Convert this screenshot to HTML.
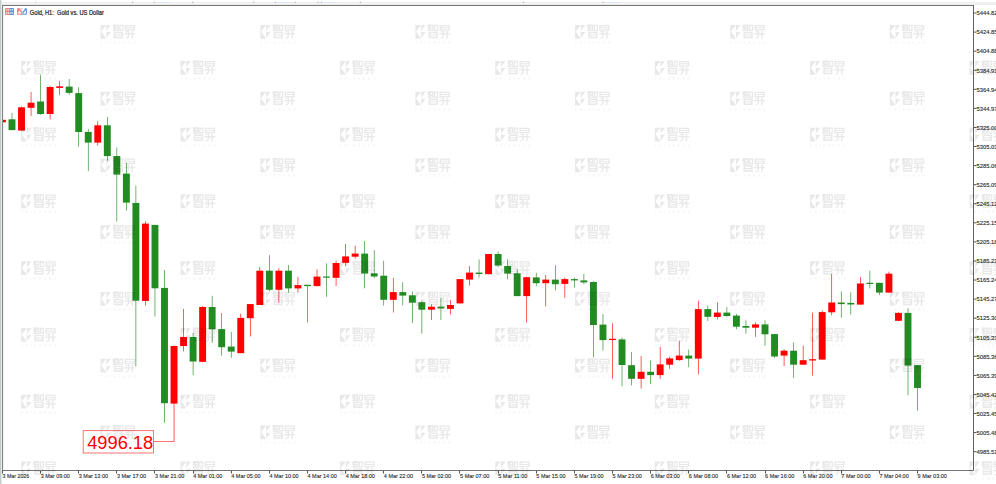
<!DOCTYPE html>
<html><head><meta charset="utf-8"><style>
html,body{margin:0;padding:0;background:#fff;width:996px;height:484px;overflow:hidden}
svg{display:block}
.ax{font-family:"Liberation Sans",sans-serif;font-size:6px;fill:#2a2a2a;stroke:#2a2a2a;stroke-width:0.12}
.hd{font-family:"Liberation Sans",sans-serif;font-size:6.4px;fill:#1a1a1a;stroke:#1a1a1a;stroke-width:0.2}
</style></head><body>
<svg width="996" height="484" viewBox="0 0 996 484">
<defs><g id="wm" fill="#000" opacity="0.085">
<path d="M0.3 0H5.4V0.7L0.9 6.4L5.4 12.7V13.7H0.3Z"/>
<path d="M6.0 0H10.4L6.0 6.1Z"/>
<path d="M6.0 7.1H10.4L6.0 13.2Z"/>
<path fill-rule="evenodd" d="M12.6 -0.6h5.9v6.7h-5.9zM15.3 1.3v1.3h1.8v-1.3zM12.6 3.6h1.4l-1.4 1.5zM15.3 4.0v1.0h1.8v-1.0z"/><path fill-rule="evenodd" d="M19.0 -0.3h4.1v6.2h-4.1zM20.2 1.1v3.6h1.7v-3.6z"/>
<path fill-rule="evenodd" d="M13.5 6.8h9.2v6.4h-9.2zM15.0 8.2v1.3h6.2v-1.3zM15.0 10.6v1.1h6.2v-1.1z"/>
<path fill-rule="evenodd" d="M24.5 -0.1h10.2v5.6h-10.2zM25.8 1.2v1.1h7.6v-1.1zM25.8 3.3v1.0h7.6v-1.0z"/>
<path d="M24.0 8.3h10.9v1.3h-10.9z"/>
<path d="M25.2 6.6l3.6-1.1l0.3 1.0l-3.6 1.1z"/>
<path d="M27.5 5.9h1.4v5.4q0 1.6-3.2 2.5l-0.5-0.9q2.3-0.7 2.3-1.8z"/>
<path d="M31.3 5.9h1.4v7.7h-1.4z"/>
<text x="0" y="18.8" font-size="3.2" textLength="35.4" lengthAdjust="spacing" font-family="Liberation Sans" fill-opacity="0.8">ZHISHENG</text>
</g><clipPath id="ca"><rect x="3" y="6" width="970" height="464"/></clipPath></defs>
<rect x="0" y="0" width="996" height="484" fill="#fff"/>
<rect x="0" y="0" width="1" height="484" fill="#c0cdcd"/>
<rect x="1" y="0" width="1" height="484" fill="#e6e6e6"/>
<rect x="2" y="2" width="994" height="1" fill="#eeeeee"/>
<rect x="2" y="3" width="994" height="1" fill="#f4f4f4"/>
<rect x="2" y="4" width="994" height="1" fill="#ebebeb"/>
<rect x="154" y="2" width="17" height="1" fill="#dde7f5"/><rect x="275" y="2" width="18" height="1" fill="#dde7f5"/><rect x="321" y="2" width="17" height="1" fill="#dde7f5"/><rect x="603" y="2" width="17" height="1" fill="#dde7f5"/><rect x="35.0" y="1.6" width="1.2" height="1.6" fill="#cccccc"/><rect x="132.0" y="1.6" width="1.2" height="1.6" fill="#bdbdbd"/><rect x="153.7" y="1.6" width="1.2" height="1.6" fill="#bdbdbd"/><rect x="192.2" y="1.6" width="1.2" height="1.6" fill="#bdbdbd"/><rect x="253.0" y="1.6" width="1.2" height="1.6" fill="#bdbdbd"/><rect x="274.7" y="1.6" width="1.2" height="1.6" fill="#bdbdbd"/><rect x="294.7" y="1.6" width="1.2" height="1.6" fill="#bdbdbd"/><rect x="317.5" y="1.6" width="1.2" height="1.6" fill="#bdbdbd"/><rect x="320.8" y="1.6" width="1.2" height="1.6" fill="#bdbdbd"/><rect x="359.8" y="1.6" width="1.2" height="1.6" fill="#bdbdbd"/><rect x="522.9" y="1.6" width="1.2" height="1.6" fill="#bdbdbd"/><rect x="602.4" y="1.6" width="1.2" height="1.6" fill="#bdbdbd"/>
<rect x="3" y="6" width="1" height="464" fill="#f0f0f0"/>
<g clip-path="url(#ca)"><rect x="2.13" y="119.8" width="0.64" height="2.5" fill="#ff0000"/><rect x="11.66" y="112.9" width="0.64" height="17.2" fill="#228b22"/><rect x="21.19" y="106.5" width="0.64" height="24.1" fill="#ff0000"/><rect x="30.73" y="92.0" width="0.64" height="24.1" fill="#ff0000"/><rect x="40.26" y="74.7" width="0.64" height="40.2" fill="#228b22"/><rect x="49.79" y="86.1" width="0.64" height="33.4" fill="#ff0000"/><rect x="59.32" y="80.9" width="0.64" height="14.0" fill="#ff0000"/><rect x="68.85" y="78.9" width="0.64" height="15.9" fill="#228b22"/><rect x="78.39" y="87.2" width="0.64" height="59.6" fill="#228b22"/><rect x="87.92" y="129.0" width="0.64" height="42.0" fill="#228b22"/><rect x="97.45" y="121.2" width="0.64" height="24.3" fill="#ff0000"/><rect x="106.98" y="117.0" width="0.64" height="43.8" fill="#228b22"/><rect x="116.51" y="147.4" width="0.64" height="74.1" fill="#228b22"/><rect x="126.05" y="163.0" width="0.64" height="47.4" fill="#228b22"/><rect x="135.58" y="185.6" width="0.64" height="180.8" fill="#228b22"/><rect x="145.11" y="221.2" width="0.64" height="84.4" fill="#ff0000"/><rect x="154.64" y="224.9" width="0.64" height="91.5" fill="#228b22"/><rect x="164.17" y="270.0" width="0.64" height="152.6" fill="#228b22"/><rect x="173.71" y="345.3" width="0.64" height="96.1" fill="#ff0000"/><rect x="183.24" y="308.9" width="0.64" height="42.5" fill="#ff0000"/><rect x="192.77" y="332.9" width="0.64" height="42.3" fill="#228b22"/><rect x="202.30" y="306.1" width="0.64" height="56.2" fill="#ff0000"/><rect x="211.83" y="295.8" width="0.64" height="47.0" fill="#228b22"/><rect x="221.37" y="313.0" width="0.64" height="42.7" fill="#228b22"/><rect x="230.90" y="332.0" width="0.64" height="25.8" fill="#228b22"/><rect x="240.43" y="313.7" width="0.64" height="39.5" fill="#ff0000"/><rect x="249.96" y="303.9" width="0.64" height="32.6" fill="#ff0000"/><rect x="259.49" y="267.0" width="0.64" height="38.0" fill="#ff0000"/><rect x="269.03" y="255.2" width="0.64" height="36.2" fill="#228b22"/><rect x="278.56" y="268.3" width="0.64" height="34.3" fill="#ff0000"/><rect x="288.09" y="265.0" width="0.64" height="27.7" fill="#228b22"/><rect x="297.62" y="277.0" width="0.64" height="15.7" fill="#ff0000"/><rect x="307.15" y="284.8" width="0.64" height="37.7" fill="#228b22"/><rect x="316.69" y="269.3" width="0.64" height="17.0" fill="#ff0000"/><rect x="326.22" y="263.4" width="0.64" height="33.4" fill="#228b22"/><rect x="335.75" y="260.5" width="0.64" height="25.5" fill="#ff0000"/><rect x="345.28" y="244.0" width="0.64" height="21.8" fill="#ff0000"/><rect x="354.81" y="245.6" width="0.64" height="13.2" fill="#ff0000"/><rect x="364.35" y="241.2" width="0.64" height="47.1" fill="#228b22"/><rect x="373.88" y="250.1" width="0.64" height="27.9" fill="#228b22"/><rect x="383.41" y="260.8" width="0.64" height="44.7" fill="#228b22"/><rect x="392.94" y="277.9" width="0.64" height="34.6" fill="#ff0000"/><rect x="402.47" y="282.2" width="0.64" height="23.3" fill="#228b22"/><rect x="412.01" y="291.5" width="0.64" height="31.4" fill="#228b22"/><rect x="421.54" y="301.1" width="0.64" height="32.5" fill="#228b22"/><rect x="431.07" y="304.4" width="0.64" height="15.5" fill="#ff0000"/><rect x="440.60" y="297.8" width="0.64" height="22.1" fill="#228b22"/><rect x="450.13" y="300.0" width="0.64" height="14.3" fill="#ff0000"/><rect x="459.67" y="279.1" width="0.64" height="24.3" fill="#ff0000"/><rect x="469.20" y="266.0" width="0.64" height="19.5" fill="#ff0000"/><rect x="478.73" y="259.4" width="0.64" height="18.2" fill="#228b22"/><rect x="488.26" y="254.0" width="0.64" height="20.2" fill="#ff0000"/><rect x="497.79" y="251.5" width="0.64" height="15.7" fill="#228b22"/><rect x="507.33" y="259.4" width="0.64" height="19.9" fill="#228b22"/><rect x="516.86" y="269.2" width="0.64" height="26.9" fill="#228b22"/><rect x="526.39" y="276.6" width="0.64" height="46.0" fill="#ff0000"/><rect x="535.92" y="272.8" width="0.64" height="13.4" fill="#228b22"/><rect x="545.45" y="275.0" width="0.64" height="31.4" fill="#ff0000"/><rect x="554.99" y="265.2" width="0.64" height="25.1" fill="#228b22"/><rect x="564.52" y="277.6" width="0.64" height="20.2" fill="#ff0000"/><rect x="574.05" y="277.6" width="0.64" height="10.0" fill="#228b22"/><rect x="583.58" y="273.8" width="0.64" height="10.4" fill="#228b22"/><rect x="593.11" y="281.2" width="0.64" height="76.2" fill="#228b22"/><rect x="602.65" y="313.9" width="0.64" height="36.8" fill="#228b22"/><rect x="612.18" y="323.3" width="0.64" height="55.5" fill="#ff0000"/><rect x="621.71" y="337.4" width="0.64" height="48.8" fill="#228b22"/><rect x="631.24" y="352.0" width="0.64" height="33.4" fill="#228b22"/><rect x="640.77" y="356.1" width="0.64" height="32.6" fill="#ff0000"/><rect x="650.31" y="360.6" width="0.64" height="23.6" fill="#228b22"/><rect x="659.84" y="347.0" width="0.64" height="31.8" fill="#ff0000"/><rect x="669.37" y="356.8" width="0.64" height="12.0" fill="#ff0000"/><rect x="678.90" y="340.7" width="0.64" height="19.9" fill="#ff0000"/><rect x="688.43" y="349.6" width="0.64" height="17.6" fill="#228b22"/><rect x="697.97" y="300.7" width="0.64" height="73.6" fill="#ff0000"/><rect x="707.50" y="305.5" width="0.64" height="15.5" fill="#228b22"/><rect x="717.03" y="302.2" width="0.64" height="17.1" fill="#ff0000"/><rect x="726.56" y="307.0" width="0.64" height="9.8" fill="#228b22"/><rect x="736.09" y="314.0" width="0.64" height="15.2" fill="#228b22"/><rect x="745.63" y="320.2" width="0.64" height="13.6" fill="#228b22"/><rect x="755.16" y="322.2" width="0.64" height="14.6" fill="#ff0000"/><rect x="764.69" y="320.2" width="0.64" height="25.7" fill="#228b22"/><rect x="774.22" y="334.1" width="0.64" height="23.9" fill="#228b22"/><rect x="783.75" y="349.2" width="0.64" height="16.8" fill="#ff0000"/><rect x="793.29" y="342.4" width="0.64" height="35.3" fill="#228b22"/><rect x="802.82" y="345.4" width="0.64" height="19.3" fill="#ff0000"/><rect x="812.35" y="312.6" width="0.64" height="62.9" fill="#ff0000"/><rect x="821.88" y="310.4" width="0.64" height="49.2" fill="#ff0000"/><rect x="831.41" y="274.0" width="0.64" height="41.3" fill="#ff0000"/><rect x="840.95" y="291.5" width="0.64" height="26.1" fill="#228b22"/><rect x="850.48" y="292.3" width="0.64" height="22.3" fill="#228b22"/><rect x="860.01" y="277.0" width="0.64" height="27.6" fill="#ff0000"/><rect x="869.54" y="270.7" width="0.64" height="17.7" fill="#228b22"/><rect x="879.07" y="282.8" width="0.64" height="12.2" fill="#228b22"/><rect x="888.61" y="271.6" width="0.64" height="21.0" fill="#ff0000"/><rect x="898.14" y="312.1" width="0.64" height="8.7" fill="#ff0000"/><rect x="907.67" y="308.4" width="0.64" height="87.0" fill="#228b22"/><rect x="917.20" y="365.0" width="0.64" height="45.7" fill="#228b22"/><rect x="-1.00" y="119.8" width="6.9" height="2.5" fill="#ff0000"/><rect x="8.53" y="119.3" width="6.9" height="10.8" fill="#228b22"/><rect x="18.06" y="107.3" width="6.9" height="23.3" fill="#ff0000"/><rect x="27.60" y="102.7" width="6.9" height="5.1" fill="#ff0000"/><rect x="37.13" y="101.5" width="6.9" height="12.5" fill="#228b22"/><rect x="46.66" y="87.0" width="6.9" height="27.0" fill="#ff0000"/><rect x="56.19" y="86.3" width="6.9" height="1.6" fill="#ff0000"/><rect x="65.72" y="86.6" width="6.9" height="6.3" fill="#228b22"/><rect x="75.26" y="93.1" width="6.9" height="38.9" fill="#228b22"/><rect x="84.79" y="131.9" width="6.9" height="10.7" fill="#228b22"/><rect x="94.32" y="125.3" width="6.9" height="17.3" fill="#ff0000"/><rect x="103.85" y="125.3" width="6.9" height="30.8" fill="#228b22"/><rect x="113.38" y="156.0" width="6.9" height="18.6" fill="#228b22"/><rect x="122.92" y="173.6" width="6.9" height="29.0" fill="#228b22"/><rect x="132.45" y="203.0" width="6.9" height="97.7" fill="#228b22"/><rect x="141.98" y="223.6" width="6.9" height="77.4" fill="#ff0000"/><rect x="151.51" y="224.9" width="6.9" height="63.4" fill="#228b22"/><rect x="161.04" y="287.9" width="6.9" height="115.3" fill="#228b22"/><rect x="170.58" y="346.0" width="6.9" height="57.6" fill="#ff0000"/><rect x="180.11" y="337.0" width="6.9" height="9.0" fill="#ff0000"/><rect x="189.64" y="337.0" width="6.9" height="24.5" fill="#228b22"/><rect x="199.17" y="307.0" width="6.9" height="54.8" fill="#ff0000"/><rect x="208.70" y="307.0" width="6.9" height="22.3" fill="#228b22"/><rect x="218.24" y="329.1" width="6.9" height="18.1" fill="#228b22"/><rect x="227.77" y="346.6" width="6.9" height="5.0" fill="#228b22"/><rect x="237.30" y="317.9" width="6.9" height="35.3" fill="#ff0000"/><rect x="246.83" y="304.1" width="6.9" height="14.1" fill="#ff0000"/><rect x="256.36" y="270.7" width="6.9" height="34.3" fill="#ff0000"/><rect x="265.90" y="270.7" width="6.9" height="19.1" fill="#228b22"/><rect x="275.43" y="270.7" width="6.9" height="19.1" fill="#ff0000"/><rect x="284.96" y="270.7" width="6.9" height="17.7" fill="#228b22"/><rect x="294.49" y="285.1" width="6.9" height="3.3" fill="#ff0000"/><rect x="304.02" y="284.8" width="6.9" height="1.3" fill="#228b22"/><rect x="313.56" y="276.6" width="6.9" height="9.5" fill="#ff0000"/><rect x="323.09" y="276.5" width="6.9" height="1.2" fill="#228b22"/><rect x="332.62" y="263.0" width="6.9" height="14.8" fill="#ff0000"/><rect x="342.15" y="256.4" width="6.9" height="6.4" fill="#ff0000"/><rect x="351.68" y="253.6" width="6.9" height="3.1" fill="#ff0000"/><rect x="361.22" y="253.6" width="6.9" height="19.9" fill="#228b22"/><rect x="370.75" y="273.3" width="6.9" height="3.2" fill="#228b22"/><rect x="380.28" y="275.7" width="6.9" height="24.1" fill="#228b22"/><rect x="389.81" y="292.1" width="6.9" height="7.7" fill="#ff0000"/><rect x="399.34" y="292.1" width="6.9" height="3.5" fill="#228b22"/><rect x="408.88" y="295.3" width="6.9" height="7.4" fill="#228b22"/><rect x="418.41" y="302.2" width="6.9" height="7.5" fill="#228b22"/><rect x="427.94" y="306.7" width="6.9" height="3.0" fill="#ff0000"/><rect x="437.47" y="306.6" width="6.9" height="1.9" fill="#228b22"/><rect x="447.00" y="305.0" width="6.9" height="3.9" fill="#ff0000"/><rect x="456.54" y="279.1" width="6.9" height="24.3" fill="#ff0000"/><rect x="466.07" y="272.6" width="6.9" height="7.0" fill="#ff0000"/><rect x="475.60" y="272.6" width="6.9" height="1.4" fill="#228b22"/><rect x="485.13" y="254.0" width="6.9" height="20.2" fill="#ff0000"/><rect x="494.66" y="254.0" width="6.9" height="11.5" fill="#228b22"/><rect x="504.20" y="266.0" width="6.9" height="7.6" fill="#228b22"/><rect x="513.73" y="273.3" width="6.9" height="22.8" fill="#228b22"/><rect x="523.26" y="277.2" width="6.9" height="18.9" fill="#ff0000"/><rect x="532.79" y="277.4" width="6.9" height="5.8" fill="#228b22"/><rect x="542.32" y="279.6" width="6.9" height="3.6" fill="#ff0000"/><rect x="551.86" y="279.6" width="6.9" height="4.6" fill="#228b22"/><rect x="561.39" y="279.1" width="6.9" height="4.8" fill="#ff0000"/><rect x="570.92" y="279.1" width="6.9" height="1.3" fill="#228b22"/><rect x="580.45" y="280.4" width="6.9" height="2.0" fill="#228b22"/><rect x="589.98" y="282.0" width="6.9" height="43.0" fill="#228b22"/><rect x="599.52" y="324.6" width="6.9" height="15.5" fill="#228b22"/><rect x="609.05" y="338.8" width="6.9" height="1.2" fill="#ff0000"/><rect x="618.58" y="339.4" width="6.9" height="25.6" fill="#228b22"/><rect x="628.11" y="365.2" width="6.9" height="13.6" fill="#228b22"/><rect x="637.64" y="371.8" width="6.9" height="7.0" fill="#ff0000"/><rect x="647.18" y="371.8" width="6.9" height="3.3" fill="#228b22"/><rect x="656.71" y="364.4" width="6.9" height="10.7" fill="#ff0000"/><rect x="666.24" y="358.4" width="6.9" height="6.3" fill="#ff0000"/><rect x="675.77" y="355.6" width="6.9" height="4.5" fill="#ff0000"/><rect x="685.30" y="355.6" width="6.9" height="3.0" fill="#228b22"/><rect x="694.84" y="309.1" width="6.9" height="49.5" fill="#ff0000"/><rect x="704.37" y="309.1" width="6.9" height="7.7" fill="#228b22"/><rect x="713.90" y="312.6" width="6.9" height="4.4" fill="#ff0000"/><rect x="723.43" y="312.6" width="6.9" height="3.4" fill="#228b22"/><rect x="732.96" y="315.6" width="6.9" height="11.1" fill="#228b22"/><rect x="742.50" y="326.0" width="6.9" height="1.7" fill="#228b22"/><rect x="752.03" y="324.4" width="6.9" height="3.3" fill="#ff0000"/><rect x="761.56" y="324.4" width="6.9" height="9.9" fill="#228b22"/><rect x="771.09" y="334.1" width="6.9" height="22.4" fill="#228b22"/><rect x="780.62" y="350.7" width="6.9" height="4.9" fill="#ff0000"/><rect x="790.16" y="350.7" width="6.9" height="14.0" fill="#228b22"/><rect x="799.69" y="360.2" width="6.9" height="4.5" fill="#ff0000"/><rect x="809.22" y="359.2" width="6.9" height="1.3" fill="#ff0000"/><rect x="818.75" y="312.1" width="6.9" height="47.5" fill="#ff0000"/><rect x="828.28" y="302.5" width="6.9" height="9.8" fill="#ff0000"/><rect x="837.82" y="302.5" width="6.9" height="1.6" fill="#228b22"/><rect x="847.35" y="302.9" width="6.9" height="1.6" fill="#228b22"/><rect x="856.88" y="283.5" width="6.9" height="21.1" fill="#ff0000"/><rect x="866.41" y="282.8" width="6.9" height="1.2" fill="#228b22"/><rect x="875.94" y="282.8" width="6.9" height="9.8" fill="#228b22"/><rect x="885.48" y="273.7" width="6.9" height="18.9" fill="#ff0000"/><rect x="895.01" y="312.9" width="6.9" height="7.9" fill="#ff0000"/><rect x="904.54" y="312.9" width="6.9" height="52.7" fill="#228b22"/><rect x="914.07" y="365.1" width="6.9" height="22.9" fill="#228b22"/></g>

<rect x="83.2" y="430.6" width="70.3" height="22.4" fill="none" stroke="#ff0000" stroke-opacity="0.55" stroke-width="1"/>
<rect x="153.5" y="441" width="21" height="1" fill="#ff0000" fill-opacity="0.55"/>
<text x="87.2" y="448.7" font-family="Liberation Sans" font-size="18" fill="#ff0000" textLength="66" lengthAdjust="spacingAndGlyphs">4996.18</text>

<rect x="2" y="5" width="972" height="1" fill="#777"/>
<rect x="2" y="5" width="1" height="466" fill="#888"/>
<rect x="973" y="5" width="1" height="466" fill="#606060"/>
<rect x="2" y="470" width="972" height="1" fill="#747474"/>

<g>
<rect x="5" y="8" width="4.7" height="7" rx="0.9" fill="#ee7d7d"/>
<rect x="9.4" y="8" width="4.6" height="7" rx="0.9" fill="#4f92d6"/>
<rect x="9.4" y="8" width="0.6" height="7" fill="#4f92d6"/>
<g fill="#fbd2d2"><rect x="5.9" y="8.9" width="1.4" height="1.7"/><rect x="7.9" y="8.9" width="1.5" height="1.7"/><rect x="5.9" y="11.8" width="1.4" height="2.3"/><rect x="7.9" y="11.8" width="1.5" height="2.3"/></g>
<g fill="#c9e0f7"><rect x="10.2" y="8.9" width="1.4" height="1.7"/><rect x="12.2" y="8.9" width="1.0" height="1.7"/><rect x="10.2" y="11.8" width="1.4" height="2.3"/><rect x="12.2" y="11.8" width="1.0" height="2.3"/></g>
<rect x="20.2" y="8.1" width="2.8" height="1.3" rx="0.6" fill="#cdcdcd"/>
<path d="M17.1 9.1Q17.1 8.1 18.2 8.1L19.1 8.1L22.3 11.9L22.3 14.8L17.9 14.8Q17.1 14.8 17.1 14L17.1 9.1Z" fill="#ee7d7d"/>
<path d="M18.2 13.9L18.2 11.6L19.3 10.6L21.3 12.6L21.3 13.9Z" fill="#fde6dc"/>
<path d="M22.5 14.8L22.5 11.6L24.5 9.8L24.5 8.9Q24.5 8.2 25.3 8.2L26.2 8.2Q26.9 8.2 26.9 9L26.9 14Q26.9 14.8 26.1 14.8Z" fill="#4f92d6"/>
<path d="M23.4 13.9L23.4 12.1L25.2 10.5L26.0 10.5L26.0 13.9Z" fill="#cde6fb"/>
</g>
<text x="29.8" y="14.7" class="hd" xml:space="preserve" textLength="74" lengthAdjust="spacingAndGlyphs">Gold, H1:  Gold vs. US Dollar</text>

<rect x="974" y="12.55" width="2.5" height="1" fill="#555"/><text x="976.6" y="15.35" class="ax" textLength="21" lengthAdjust="spacingAndGlyphs">5444.82</text><rect x="974" y="31.62" width="2.5" height="1" fill="#555"/><text x="976.6" y="34.42" class="ax" textLength="21" lengthAdjust="spacingAndGlyphs">5424.85</text><rect x="974" y="50.69" width="2.5" height="1" fill="#555"/><text x="976.6" y="53.49" class="ax" textLength="21" lengthAdjust="spacingAndGlyphs">5404.88</text><rect x="974" y="69.76" width="2.5" height="1" fill="#555"/><text x="976.6" y="72.56" class="ax" textLength="21" lengthAdjust="spacingAndGlyphs">5384.91</text><rect x="974" y="88.83" width="2.5" height="1" fill="#555"/><text x="976.6" y="91.63" class="ax" textLength="21" lengthAdjust="spacingAndGlyphs">5364.94</text><rect x="974" y="107.90" width="2.5" height="1" fill="#555"/><text x="976.6" y="110.70" class="ax" textLength="21" lengthAdjust="spacingAndGlyphs">5344.97</text><rect x="974" y="126.97" width="2.5" height="1" fill="#555"/><text x="976.6" y="129.77" class="ax" textLength="21" lengthAdjust="spacingAndGlyphs">5325.00</text><rect x="974" y="146.04" width="2.5" height="1" fill="#555"/><text x="976.6" y="148.84" class="ax" textLength="21" lengthAdjust="spacingAndGlyphs">5305.03</text><rect x="974" y="165.11" width="2.5" height="1" fill="#555"/><text x="976.6" y="167.91" class="ax" textLength="21" lengthAdjust="spacingAndGlyphs">5285.06</text><rect x="974" y="184.18" width="2.5" height="1" fill="#555"/><text x="976.6" y="186.98" class="ax" textLength="21" lengthAdjust="spacingAndGlyphs">5265.09</text><rect x="974" y="203.25" width="2.5" height="1" fill="#555"/><text x="976.6" y="206.05" class="ax" textLength="21" lengthAdjust="spacingAndGlyphs">5245.12</text><rect x="974" y="222.32" width="2.5" height="1" fill="#555"/><text x="976.6" y="225.12" class="ax" textLength="21" lengthAdjust="spacingAndGlyphs">5225.15</text><rect x="974" y="241.39" width="2.5" height="1" fill="#555"/><text x="976.6" y="244.19" class="ax" textLength="21" lengthAdjust="spacingAndGlyphs">5205.18</text><rect x="974" y="260.46" width="2.5" height="1" fill="#555"/><text x="976.6" y="263.26" class="ax" textLength="21" lengthAdjust="spacingAndGlyphs">5185.21</text><rect x="974" y="279.53" width="2.5" height="1" fill="#555"/><text x="976.6" y="282.33" class="ax" textLength="21" lengthAdjust="spacingAndGlyphs">5165.24</text><rect x="974" y="298.60" width="2.5" height="1" fill="#555"/><text x="976.6" y="301.40" class="ax" textLength="21" lengthAdjust="spacingAndGlyphs">5145.27</text><rect x="974" y="317.67" width="2.5" height="1" fill="#555"/><text x="976.6" y="320.47" class="ax" textLength="21" lengthAdjust="spacingAndGlyphs">5125.30</text><rect x="974" y="336.74" width="2.5" height="1" fill="#555"/><text x="976.6" y="339.54" class="ax" textLength="21" lengthAdjust="spacingAndGlyphs">5105.33</text><rect x="974" y="355.81" width="2.5" height="1" fill="#555"/><text x="976.6" y="358.61" class="ax" textLength="21" lengthAdjust="spacingAndGlyphs">5085.36</text><rect x="974" y="374.88" width="2.5" height="1" fill="#555"/><text x="976.6" y="377.68" class="ax" textLength="21" lengthAdjust="spacingAndGlyphs">5065.39</text><rect x="974" y="393.95" width="2.5" height="1" fill="#555"/><text x="976.6" y="396.75" class="ax" textLength="21" lengthAdjust="spacingAndGlyphs">5045.42</text><rect x="974" y="413.02" width="2.5" height="1" fill="#555"/><text x="976.6" y="415.82" class="ax" textLength="21" lengthAdjust="spacingAndGlyphs">5025.45</text><rect x="974" y="432.09" width="2.5" height="1" fill="#555"/><text x="976.6" y="434.89" class="ax" textLength="21" lengthAdjust="spacingAndGlyphs">5005.48</text><rect x="974" y="451.16" width="2.5" height="1" fill="#555"/><text x="976.6" y="453.96" class="ax" textLength="21" lengthAdjust="spacingAndGlyphs">4985.51</text>
<rect x="2" y="471" width="1" height="2.5" fill="#555"/><text x="2.55" y="478.3" class="ax" textLength="26.7" lengthAdjust="spacingAndGlyphs">3 Mar 2026</text><rect x="40" y="471" width="1" height="2.5" fill="#555"/><text x="40.68" y="478.3" class="ax" textLength="29.2" lengthAdjust="spacingAndGlyphs">3 Mar 09:00</text><rect x="78" y="471" width="1" height="2.5" fill="#555"/><text x="78.81" y="478.3" class="ax" textLength="29.2" lengthAdjust="spacingAndGlyphs">3 Mar 13:00</text><rect x="116" y="471" width="1" height="2.5" fill="#555"/><text x="116.93" y="478.3" class="ax" textLength="29.2" lengthAdjust="spacingAndGlyphs">3 Mar 17:00</text><rect x="154" y="471" width="1" height="2.5" fill="#555"/><text x="155.06" y="478.3" class="ax" textLength="29.2" lengthAdjust="spacingAndGlyphs">3 Mar 21:00</text><rect x="193" y="471" width="1" height="2.5" fill="#555"/><text x="193.19" y="478.3" class="ax" textLength="29.2" lengthAdjust="spacingAndGlyphs">4 Mar 01:00</text><rect x="231" y="471" width="1" height="2.5" fill="#555"/><text x="231.32" y="478.3" class="ax" textLength="29.2" lengthAdjust="spacingAndGlyphs">4 Mar 05:00</text><rect x="269" y="471" width="1" height="2.5" fill="#555"/><text x="269.45" y="478.3" class="ax" textLength="29.2" lengthAdjust="spacingAndGlyphs">4 Mar 10:00</text><rect x="307" y="471" width="1" height="2.5" fill="#555"/><text x="307.57" y="478.3" class="ax" textLength="29.2" lengthAdjust="spacingAndGlyphs">4 Mar 14:00</text><rect x="345" y="471" width="1" height="2.5" fill="#555"/><text x="345.70" y="478.3" class="ax" textLength="29.2" lengthAdjust="spacingAndGlyphs">4 Mar 18:00</text><rect x="383" y="471" width="1" height="2.5" fill="#555"/><text x="383.83" y="478.3" class="ax" textLength="29.2" lengthAdjust="spacingAndGlyphs">4 Mar 22:00</text><rect x="421" y="471" width="1" height="2.5" fill="#555"/><text x="421.96" y="478.3" class="ax" textLength="29.2" lengthAdjust="spacingAndGlyphs">5 Mar 02:00</text><rect x="459" y="471" width="1" height="2.5" fill="#555"/><text x="460.09" y="478.3" class="ax" textLength="29.2" lengthAdjust="spacingAndGlyphs">5 Mar 07:00</text><rect x="498" y="471" width="1" height="2.5" fill="#555"/><text x="498.21" y="478.3" class="ax" textLength="29.2" lengthAdjust="spacingAndGlyphs">5 Mar 11:00</text><rect x="536" y="471" width="1" height="2.5" fill="#555"/><text x="536.34" y="478.3" class="ax" textLength="29.2" lengthAdjust="spacingAndGlyphs">5 Mar 15:00</text><rect x="574" y="471" width="1" height="2.5" fill="#555"/><text x="574.47" y="478.3" class="ax" textLength="29.2" lengthAdjust="spacingAndGlyphs">5 Mar 19:00</text><rect x="612" y="471" width="1" height="2.5" fill="#555"/><text x="612.60" y="478.3" class="ax" textLength="29.2" lengthAdjust="spacingAndGlyphs">5 Mar 23:00</text><rect x="650" y="471" width="1" height="2.5" fill="#555"/><text x="650.73" y="478.3" class="ax" textLength="29.2" lengthAdjust="spacingAndGlyphs">6 Mar 03:00</text><rect x="688" y="471" width="1" height="2.5" fill="#555"/><text x="688.85" y="478.3" class="ax" textLength="29.2" lengthAdjust="spacingAndGlyphs">6 Mar 08:00</text><rect x="726" y="471" width="1" height="2.5" fill="#555"/><text x="726.98" y="478.3" class="ax" textLength="29.2" lengthAdjust="spacingAndGlyphs">6 Mar 12:00</text><rect x="765" y="471" width="1" height="2.5" fill="#555"/><text x="765.11" y="478.3" class="ax" textLength="29.2" lengthAdjust="spacingAndGlyphs">6 Mar 16:00</text><rect x="803" y="471" width="1" height="2.5" fill="#555"/><text x="803.24" y="478.3" class="ax" textLength="29.2" lengthAdjust="spacingAndGlyphs">6 Mar 20:00</text><rect x="841" y="471" width="1" height="2.5" fill="#555"/><text x="841.37" y="478.3" class="ax" textLength="29.2" lengthAdjust="spacingAndGlyphs">7 Mar 00:00</text><rect x="879" y="471" width="1" height="2.5" fill="#555"/><text x="879.49" y="478.3" class="ax" textLength="29.2" lengthAdjust="spacingAndGlyphs">7 Mar 04:00</text><rect x="917" y="471" width="1" height="2.5" fill="#555"/><text x="917.62" y="478.3" class="ax" textLength="29.2" lengthAdjust="spacingAndGlyphs">9 Mar 03:00</text>
<g><use href="#wm" x="100.30" y="25.00"/><use href="#wm" x="260.10" y="25.00"/><use href="#wm" x="415.10" y="25.00"/><use href="#wm" x="574.80" y="25.00"/><use href="#wm" x="730.00" y="25.00"/><use href="#wm" x="889.50" y="25.00"/><use href="#wm" x="20.85" y="61.00"/><use href="#wm" x="180.30" y="61.00"/><use href="#wm" x="339.80" y="61.00"/><use href="#wm" x="495.00" y="61.00"/><use href="#wm" x="654.50" y="61.00"/><use href="#wm" x="809.80" y="61.00"/><use href="#wm" x="969.20" y="61.00"/><use href="#wm" x="100.30" y="91.77"/><use href="#wm" x="260.10" y="91.77"/><use href="#wm" x="415.10" y="91.77"/><use href="#wm" x="574.80" y="91.77"/><use href="#wm" x="730.00" y="91.77"/><use href="#wm" x="889.50" y="91.77"/><use href="#wm" x="20.85" y="127.77"/><use href="#wm" x="180.30" y="127.77"/><use href="#wm" x="339.80" y="127.77"/><use href="#wm" x="495.00" y="127.77"/><use href="#wm" x="654.50" y="127.77"/><use href="#wm" x="809.80" y="127.77"/><use href="#wm" x="969.20" y="127.77"/><use href="#wm" x="100.30" y="158.54"/><use href="#wm" x="260.10" y="158.54"/><use href="#wm" x="415.10" y="158.54"/><use href="#wm" x="574.80" y="158.54"/><use href="#wm" x="730.00" y="158.54"/><use href="#wm" x="889.50" y="158.54"/><use href="#wm" x="20.85" y="194.54"/><use href="#wm" x="180.30" y="194.54"/><use href="#wm" x="339.80" y="194.54"/><use href="#wm" x="495.00" y="194.54"/><use href="#wm" x="654.50" y="194.54"/><use href="#wm" x="809.80" y="194.54"/><use href="#wm" x="969.20" y="194.54"/><use href="#wm" x="100.30" y="225.31"/><use href="#wm" x="260.10" y="225.31"/><use href="#wm" x="415.10" y="225.31"/><use href="#wm" x="574.80" y="225.31"/><use href="#wm" x="730.00" y="225.31"/><use href="#wm" x="889.50" y="225.31"/><use href="#wm" x="20.85" y="261.31"/><use href="#wm" x="180.30" y="261.31"/><use href="#wm" x="339.80" y="261.31"/><use href="#wm" x="495.00" y="261.31"/><use href="#wm" x="654.50" y="261.31"/><use href="#wm" x="809.80" y="261.31"/><use href="#wm" x="969.20" y="261.31"/><use href="#wm" x="100.30" y="292.08"/><use href="#wm" x="260.10" y="292.08"/><use href="#wm" x="415.10" y="292.08"/><use href="#wm" x="574.80" y="292.08"/><use href="#wm" x="730.00" y="292.08"/><use href="#wm" x="889.50" y="292.08"/><use href="#wm" x="20.85" y="328.08"/><use href="#wm" x="180.30" y="328.08"/><use href="#wm" x="339.80" y="328.08"/><use href="#wm" x="495.00" y="328.08"/><use href="#wm" x="654.50" y="328.08"/><use href="#wm" x="809.80" y="328.08"/><use href="#wm" x="969.20" y="328.08"/><use href="#wm" x="100.30" y="358.85"/><use href="#wm" x="260.10" y="358.85"/><use href="#wm" x="415.10" y="358.85"/><use href="#wm" x="574.80" y="358.85"/><use href="#wm" x="730.00" y="358.85"/><use href="#wm" x="889.50" y="358.85"/><use href="#wm" x="20.85" y="394.85"/><use href="#wm" x="180.30" y="394.85"/><use href="#wm" x="339.80" y="394.85"/><use href="#wm" x="495.00" y="394.85"/><use href="#wm" x="654.50" y="394.85"/><use href="#wm" x="809.80" y="394.85"/><use href="#wm" x="969.20" y="394.85"/><use href="#wm" x="100.30" y="425.62"/><use href="#wm" x="260.10" y="425.62"/><use href="#wm" x="415.10" y="425.62"/><use href="#wm" x="574.80" y="425.62"/><use href="#wm" x="730.00" y="425.62"/><use href="#wm" x="889.50" y="425.62"/><use href="#wm" x="20.85" y="461.62"/><use href="#wm" x="180.30" y="461.62"/><use href="#wm" x="339.80" y="461.62"/><use href="#wm" x="495.00" y="461.62"/><use href="#wm" x="654.50" y="461.62"/><use href="#wm" x="809.80" y="461.62"/><use href="#wm" x="969.20" y="461.62"/></g>
</svg>
</body></html>
